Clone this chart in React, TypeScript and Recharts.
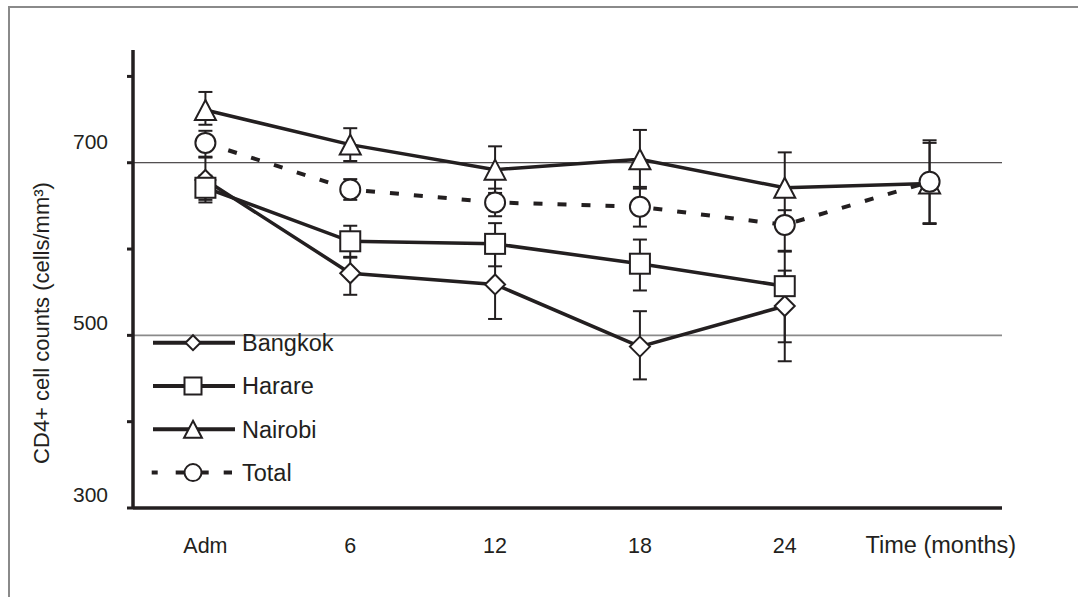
import React from 'react';
import { LineChart, Line, XAxis, YAxis, ErrorBar, ReferenceLine, Legend } from 'recharts';

const INK = '#231f20';
const GRID_LIGHT = '#8a8a8a';
const FONT = "Arial, 'Liberation Sans', Helvetica, sans-serif";

// Categories (x) and tick values
const CATEGORIES = ['Adm', '6', '12', '18', '24', 'Time (months)'];
const Y_TICKS = [300, 400, 500, 600, 700, 800];
const Y_LABELS = [300, 500, 700];

// Series values (CD4+ cells/mm3) and error bars [minus, plus]
const BANGKOK = [680, 572, 559, 487, 534, null];
const BANGKOK_ERR = [[26, 26], [25, 18], [40, 40], [38, 41], [64, 63], null];
const HARARE = [671, 609, 606, 583, 557, null];
const HARARE_ERR = [[14, 14], [18, 18], [26, 24], [31, 28], [65, 18], null];
const NAIROBI = [761, 721, 692, 704, 671, 676];
const NAIROBI_ERR = [[17, 21], [19, 19], [27, 27], [34, 34], [41, 41], [47, 47]];
const TOTAL = [723, 669, 654, 649, 628, 678];
const TOTAL_ERR = [[16, 14], [12, 12], [16, 16], [23, 23], [30, 17], [48, 48]];

const SERIES = [
  { key: 'bangkok', name: 'Bangkok', shape: 'diamond', dashed: false },
  { key: 'harare', name: 'Harare', shape: 'square', dashed: false },
  { key: 'nairobi', name: 'Nairobi', shape: 'triangle', dashed: false },
  { key: 'total', name: 'Total', shape: 'circle', dashed: true },
];

const data = CATEGORIES.map((c, i) => ({
  x: i,
  label: c,
  bangkok: BANGKOK[i],
  bangkokErr: BANGKOK_ERR[i],
  harare: HARARE[i],
  harareErr: HARARE_ERR[i],
  nairobi: NAIROBI[i],
  nairobiErr: NAIROBI_ERR[i],
  total: TOTAL[i],
  totalErr: TOTAL_ERR[i],
}));

function Marker({ shape, cx, cy, size, sw = 2 }: any) {
  const h = size / 2;
  const common = { fill: '#fff', stroke: INK, strokeWidth: sw };
  if (shape === 'diamond')
    return <path d={`M${cx},${cy - h}L${cx + h},${cy}L${cx},${cy + h}L${cx - h},${cy}Z`} {...common} />;
  if (shape === 'square') return <rect x={cx - h} y={cy - h} width={size} height={size} {...common} />;
  if (shape === 'triangle')
    return <path d={`M${cx},${cy - h}L${cx + h * 1.05},${cy + h}L${cx - h * 1.05},${cy + h}Z`} {...common} />;
  return <circle cx={cx} cy={cy} r={h} {...common} />;
}

const makeDot = (shape: string) => (p: any) => {
  const k = `${shape}-${p.index}`;
  if (p.cx == null || p.cy == null || p.value == null || Number.isNaN(p.cy)) return <g key={k} />;
  return (
    <g key={k}>
      <Marker shape={shape} cx={p.cx} cy={p.cy} size={20} />
    </g>
  );
};

const LABEL_DY: Record<number, number> = { 300: -6.5, 500: -5, 700: -13.5 };

const YTick = (p: any) => {
  const v = p.payload.value;
  if (!Y_LABELS.includes(v)) return <g />;
  return (
    <text x={p.x - 17} y={p.y + LABEL_DY[v]} textAnchor="end" fontSize={21} fontFamily={FONT} fill={INK}>
      {v}
    </text>
  );
};

const XTick = (p: any) => {
  const i = p.payload.value;
  const last = i === CATEGORIES.length - 1;
  return (
    <text
      x={last ? p.x - 64 : p.x}
      y={p.y + 45}
      textAnchor={last ? 'start' : 'middle'}
      fontSize={last ? 23.5 : 21.5}
      fontFamily={FONT}
      fill={INK}
    >
      {CATEGORIES[i]}
    </text>
  );
};

const YTitle = (p: any) => {
  const vb = p.viewBox || { x: 0, y: 50 };
  const x = vb.x + 48.5;
  const y = vb.y + 273;
  return (
    <text transform={`translate(${x},${y}) rotate(-90)`} textAnchor="middle" fontSize={22} fontFamily={FONT} fill={INK}>
      CD4+ cell counts (cells/mm³)
    </text>
  );
};

const LegendBox = () => (
  <svg width={220} height={175} style={{ display: 'block', overflow: 'visible' }}>
    {SERIES.map((s, i) => {
      const y = 16.7 + i * 43.3;
      return (
        <g key={s.key}>
          <line
            x1={s.dashed ? 1.7 : 3}
            x2={s.dashed ? 82 : 85}
            y1={y}
            y2={y}
            stroke={INK}
            strokeWidth={4}
            strokeDasharray={s.dashed ? '6 18 33 15 9' : undefined}
          />
          <Marker shape={s.shape} cx={43} cy={y} size={s.shape === 'diamond' ? 15 : 17} />
          <text x={92} y={y + 8.4} fontSize={23.5} fontFamily={FONT} fill={INK}>
            {s.name}
          </text>
        </g>
      );
    })}
  </svg>
);

export default function App() {
  return (
    <div style={{ position: 'absolute', left: 0, top: 0, width: 1078, height: 597, overflow: 'hidden', background: '#fff' }}>
      <div
        style={{
          position: 'absolute',
          left: 8,
          top: 6,
          width: 1200,
          height: 800,
          borderLeft: `2px solid ${GRID_LIGHT}`,
          borderTop: `2px solid ${GRID_LIGHT}`,
          boxSizing: 'border-box',
        }}
      />
      <div style={{ position: 'absolute', left: 0, top: 0 }}>
        <LineChart width={1078} height={597} data={data} margin={{ top: 50, right: 76, bottom: 0, left: 0 }}>
          <ReferenceLine y={700} stroke={INK} strokeWidth={1} />
          <ReferenceLine y={500} stroke={GRID_LIGHT} strokeWidth={1.6} />
          <XAxis
            type="number"
            dataKey="x"
            domain={[-0.5, 5.5]}
            ticks={[0, 1, 2, 3, 4, 5]}
            interval={0}
            allowDataOverflow
            height={89}
            tickLine={false}
            tickSize={0}
            tickMargin={0}
            axisLine={{ stroke: INK, strokeWidth: 3.5 }}
            tick={XTick}
          />
          <YAxis
            type="number"
            domain={[300, 830.6]}
            ticks={Y_TICKS}
            interval={0}
            allowDataOverflow
            width={133}
            tickSize={6}
            tickMargin={2}
            tickLine={{ stroke: INK, strokeWidth: 3 }}
            axisLine={{ stroke: INK, strokeWidth: 3.5 }}
            tick={YTick}
            label={{ content: YTitle }}
          />
          {SERIES.map((s) => (
            <Line
              key={s.key}
              type="linear"
              dataKey={s.key}
              name={s.name}
              stroke={INK}
              strokeWidth={s.dashed ? 4 : 3.5}
              strokeDasharray={s.dashed ? '9 15' : undefined}
              dot={makeDot(s.shape)}
              activeDot={false}
              isAnimationActive={false}
              legendType="none"
            >
              <ErrorBar dataKey={`${s.key}Err`} width={7} strokeWidth={2} stroke={INK} direction="y" isAnimationActive={false} />
            </Line>
          ))}
          <Legend
            layout="horizontal"
            verticalAlign="middle"
            align="center"
            wrapperStyle={{ position: 'absolute', left: 150, top: 326, width: 220, height: 175 }}
            content={() => <LegendBox />}
          />
        </LineChart>
      </div>
    </div>
  );
}
